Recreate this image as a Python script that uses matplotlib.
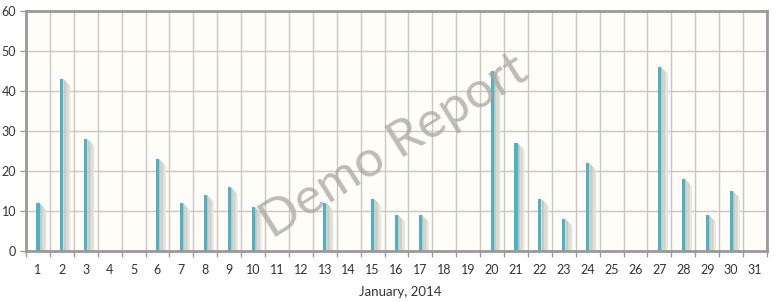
import matplotlib
matplotlib.use("Agg")
import matplotlib.pyplot as plt
from matplotlib.patches import Polygon
import numpy as np

days = list(range(1, 32))
values = [12, 43, 28, 0, 0, 23, 12, 14, 16, 11, 0, 0, 12, 0, 13, 9, 9, 0, 0,
          45, 27, 13, 8, 22, 0, 0, 46, 18, 9, 15, 0]
y_ticks = [0, 10, 20, 30, 40, 50, 60]
x_title = "January, 2014"
watermark = "Demo Report"

plt.rcParams['font.family'] = ['Lato', 'DejaVu Sans']

fig = plt.figure(figsize=(7.77, 3.02), dpi=100)
fig.patch.set_facecolor('white')
ax = fig.add_axes([26/777, 51/302, 741/777, 240/302])
ax.set_facecolor('#fffdf7')

ax.set_xlim(0.5, 31.5)
ax.set_ylim(0, 60)

# grid
for b in np.arange(1.5, 31.5, 1):
    ax.axvline(b, color='#c9c7c2', lw=1, zorder=1)
for t in y_ticks[1:-1]:
    ax.axhline(t, color='#c9c7c2', lw=1, zorder=1)

bw = 0.13
px = 31 / 741.0  # data units per pixel horizontally
py = 60 / 240.0
shades = ['#c4c2bd', '#cac8c3', '#d2d0cb', '#dcdad5', '#e8e6e1']
for d, v in zip(days, values):
    if v <= 0:
        continue
    x0 = d + bw / 2
    for i, c in enumerate(shades):
        xa = x0 + i * 1.4 * px
        xb = x0 + (i + 1) * 1.4 * px
        ya = v - (i * 1.4) * py
        yb = v - ((i + 1) * 1.4) * py
        poly = Polygon([(xa, 0), (xa, ya), (xb, yb), (xb, 0)], closed=True,
                       facecolor=c, edgecolor='none', zorder=2)
        ax.add_patch(poly)

ax.bar(days, values, width=bw, color='#4ab3c6', zorder=3)

# watermark
ax.text(0.497, 0.435, watermark, transform=ax.transAxes, rotation=32,
        fontsize=37, color='#a8a6a2', alpha=0.75,
        ha='center', va='center', zorder=4)

ax.set_xticks(days)
ax.set_xticklabels([str(d) for d in days], fontsize=9, color='#333333')
ax.set_xticks(np.arange(0.5, 32, 1), minor=True)
ax.tick_params(axis='x', which='major', length=0, pad=9)
ax.tick_params(axis='x', which='minor', length=4, color='#999999', width=1)
ax.set_yticks(y_ticks)
ax.set_yticklabels([str(t) for t in y_ticks], fontsize=9, color='#333333')
ax.tick_params(axis='y', length=4, color='#999999', width=1, pad=3)

for s in ax.spines.values():
    s.set_color('#999999')
    s.set_linewidth(2)
    s.set_zorder(5)

fig.text(400/777, 1 - 292/302, x_title, fontsize=9.5, color='#333333', ha='center', va='center')

fig.savefig('out.png', dpi=100)
